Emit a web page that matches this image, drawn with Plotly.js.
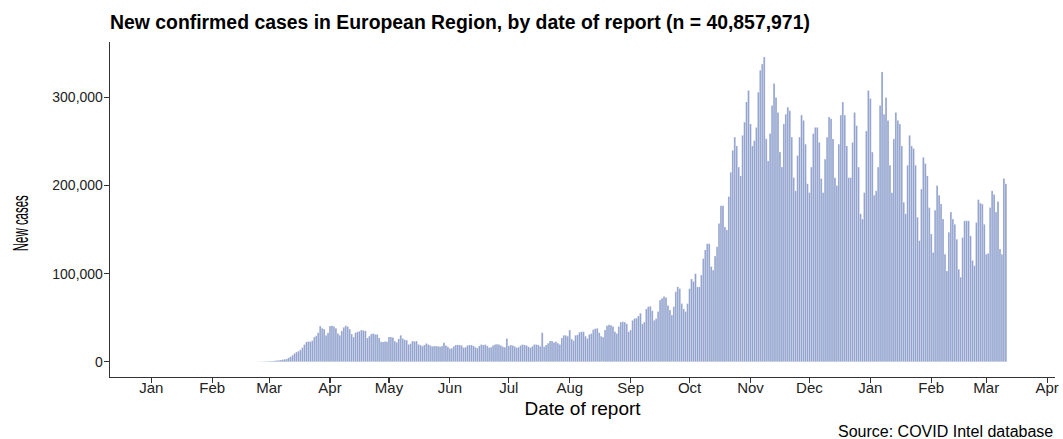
<!DOCTYPE html>
<html><head><meta charset="utf-8">
<script src="https://cdn.plot.ly/plotly-3.0.1.min.js"></script>
<style>html,body{margin:0;padding:0;background:#fff}#chart{width:1063px;height:439px}</style>
</head><body><div id="chart"></div>
<script>
// Daily new confirmed cases, European Region, from 2020-01-01 (one value per day)
var startDate = '2020-01-01';
var cases2020Q1 = [
0,0,0,0,0,0,0,0,0,0,0,0,0,0,0,0,0,0,0,0,0,0,0,0,3,0,2,1,0,5,
2,1,0,1,3,0,0,1,2,0,0,1,0,0,3,0,1,0,0,2,5,16,40,62,90,100,200,300,400,500,
600,800,900,1100,1400,1700,2000,2500,2800,3300,4500,5800,7500,9500,11000,12000,13500,16000,19500,22500,
23000,22800,24000,28000,29500,33000,40500,38000,37000,30000,33000
];
var cases2020Q2 = [
40500,41000,40000,38000,32000,30000,35000,39000,41000,40000,37000,31500,28000,33000,34000,34500,36000,35500,35000,27000,
29000,31500,32000,31000,31000,27000,22700,22500,23000,22700,28000,28000,27500,23500,22000,26000,30000,26500,25000,24500,
19700,20500,23500,23000,23500,19700,19000,17800,19000,20800,19500,18500,17500,17800,17800,17500,17000,17800,21600,18500,
17000,15000,15300,17500,19000,19200,19000,18500,16000,16500,18500,19000,19000,18000,16500,15500,18000,19500,19000,19500,
18000,16000,16500,18500,19500,20000,19500,18500,17000,16500,26500
];
var cases2020Q3 = [
18000,19000,18500,17500,16000,16500,18500,19500,19000,18500,17000,16000,17500,19500,19500,19000,17500,33000,17000,19000,
21000,23500,23500,22000,22700,21000,19700,27000,30000,30000,29000,36000,25800,24000,30000,30500,33500,34000,34000,29000,
26500,31000,32000,36500,37500,38000,33000,29000,28000,36000,41000,42000,41500,40000,34000,32000,40000,45000,45500,45000,
43000,34000,36000,47000,49000,49500,52000,55000,43000,45000,60000,62500,63000,58000,47000,49000,57000,70000,72000,74000,
73000,64000,58700,53000,62500,79500,85000,83000,66000,60000,57000,66000
];
var cases2020Q4 = [
83000,94000,91000,100000,85000,85000,98500,117000,127000,134000,134000,108000,104000,120000,130700,157000,177000,177000,153000,149600,
187500,215000,240000,255000,245000,221000,211000,257000,272000,295000,308000,270000,245000,251000,266000,306000,331000,338000,346000,253000,
228000,259000,291000,316000,300000,283000,238000,221000,270000,281000,289000,285000,255000,209000,194000,234000,255000,280000,274000,247000,
202000,192000,221000,259000,266000,266000,249000,208000,192000,230000,255000,278000,276000,253000,209000,200000,247000,280000,295000,280000,
245000,209000,209000,249000,283000,268000,221000,168000,162000,192000,262000,308000
];
var cases2021Q1 = [
299000,238000,189000,194000,221000,291000,329000,281000,300000,274000,223000,192000,253000,283000,274000,270000,245000,181000,168000,223000,
257000,245000,242000,223000,164000,137500,196000,232000,225000,211000,175000,145000,124000,172000,200000,189000,179000,162000,122000,103000,
147000,170000,162000,156000,139000,105000,96000,141000,160000,160000,160000,143000,115000,109000,158000,184000,180000,179000,156000,122000,
123000,175000,194000,190000,170000,182000,128000,122000,208000,202000
];
var tickMonths = ['Jan','Feb','Mar','Apr','May','Jun','Jul','Aug','Sep','Oct','Nov','Dec','Jan','Feb','Mar','Apr'];

var cases = [].concat(cases2020Q1, cases2020Q2, cases2020Q3, cases2020Q4, cases2021Q1);
var dates = [];
var t0 = Date.UTC(2020, 0, 1);
for (var i = 0; i < cases.length; i++) {
  dates.push(new Date(t0 + i * 86400000).toISOString().slice(0, 10));
}
var tickVals = [];
for (var m = 0; m < tickMonths.length; m++) {
  tickVals.push(new Date(Date.UTC(2020, m, 1)).toISOString().slice(0, 10));
}

var font = 'Liberation Sans, Arial, Helvetica, sans-serif';
var trace = {
  type: 'bar', x: dates, y: cases,
  marker: {color: '#8FA0CD', line: {color: 'rgba(255,255,255,0.55)', width: 0.4}},
  hoverinfo: 'x+y'
};
var layout = {
  width: 1063, height: 439,
  margin: {l: 110, r: 8, t: 42, b: 62},
  paper_bgcolor: '#fff', plot_bgcolor: '#fff',
  bargap: 0.08,
  title: {text: '<b>New confirmed cases in European Region, by date of report (n = 40,857,971)</b>',
    x: 110/1063, xanchor: 'left', xref: 'container', y: 1 - 22/439, yanchor: 'middle', yref: 'container',
    font: {family: font, size: 19.4, color: '#000'}},
  xaxis: {
    type: 'date', range: ['2019-12-11', '2021-04-05'],
    tickmode: 'array', tickvals: tickVals, ticktext: tickMonths,
    showline: true, linecolor: '#333', linewidth: 1.3,
    ticks: 'outside', ticklen: 5, tickcolor: '#333', tickwidth: 1.2,
    ticklabelstandoff: -8,
    showgrid: false, zeroline: false,
    tickfont: {family: font, size: 15, color: '#222'},
    title: {text: 'Date of report', font: {family: font, size: 19, color: '#000'}, standoff: 6}
  },
  yaxis: {
    range: [-17300, 363000],
    tickvals: [0, 100000, 200000, 300000], tickformat: ',d',
    showline: true, linecolor: '#333', linewidth: 1.3,
    ticks: 'outside', ticklen: 5, tickcolor: '#333', tickwidth: 1.2,
    ticklabelstandoff: -2,
    showgrid: false, zeroline: false,
    tickfont: {family: font, size: 14, color: '#222'}
  },
  annotations: [{
    text: 'Source: COVID Intel database', xref: 'paper', yref: 'paper',
    x: 1, xanchor: 'right', y: (377 - 431)/335, yanchor: 'middle', showarrow: false,
    font: {family: font, size: 16, color: '#000'}
  }, {
    text: 'New cases', xref: 'paper', yref: 'paper', textangle: -90,
    x: -90/945, xanchor: 'center', y: (377 - 223)/335, yanchor: 'middle', showarrow: false,
    font: {family: font, size: 22, color: '#000'}
  }],
  showlegend: false
};
Plotly.newPlot('chart', [trace], layout, {displayModeBar: false, staticPlot: true}).then(function (gd) {
  var texts = gd.querySelectorAll('.annotation-text');
  texts.forEach(function (t) {
    if (t.textContent === 'New cases') {
      t.setAttribute('textLength', '56');
      t.setAttribute('lengthAdjust', 'spacingAndGlyphs');
    }
  });
});
</script></body></html>
